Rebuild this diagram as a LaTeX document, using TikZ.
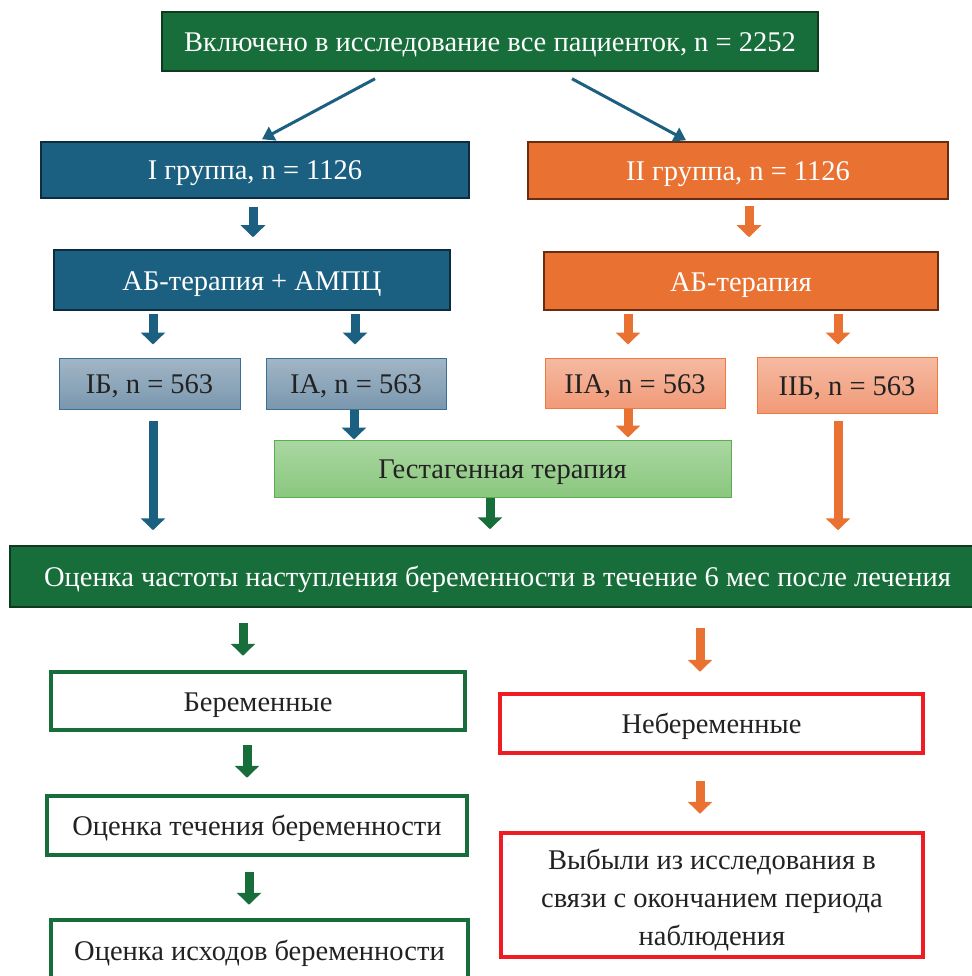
\documentclass[tikz,border=0pt]{standalone}
\usepackage{fontspec}
\setmainfont{Liberation Serif}
\usetikzlibrary{arrows.meta,calc}
\definecolor{dgreen}{HTML}{186E3A}
\definecolor{dgreenb}{HTML}{0F3A20}
\definecolor{tblue}{HTML}{1B6080}
\definecolor{tblueb}{HTML}{0E2C40}
\definecolor{orng}{HTML}{E97132}
\definecolor{orngb}{HTML}{6A2C0E}
\definecolor{gbtop}{HTML}{A2B6C6}
\definecolor{gbbot}{HTML}{7A97AE}
\definecolor{gbb}{HTML}{3A7094}
\definecolor{satop}{HTML}{F5BAA2}
\definecolor{sabot}{HTML}{F19A78}
\definecolor{sab}{HTML}{EE7A40}
\definecolor{lgtop}{HTML}{AAD7A2}
\definecolor{lgbot}{HTML}{8AC77E}
\definecolor{lgb}{HTML}{5BAE50}
\definecolor{rred}{HTML}{EE1D23}
\definecolor{txt}{HTML}{222222}
\tikzset{
  box/.style={rectangle, inner sep=0pt, align=center, text height=25pt, text depth=5pt, font=\fontsize{28.5}{38}\selectfont},
  darkbox/.style={box, fill=dgreen, draw=dgreenb, line width=1.5pt, text=white},
  bluebox/.style={box, fill=tblue, draw=tblueb, line width=1.5pt, text=white},
  orbox/.style={box, fill=orng, draw=orngb, line width=1.5pt, text=white},
  gbbox/.style={box, top color=gbtop, bottom color=gbbot, draw=gbb, line width=1pt, text=txt},
  sabox/.style={box, top color=satop, bottom color=sabot, draw=sab, line width=1pt, text=txt},
  lgbox/.style={box, top color=lgtop, bottom color=lgbot, draw=lgb, line width=1pt, text=txt},
  wgbox/.style={box, fill=white, draw=dgreen, line width=4.5pt, text=txt},
  wrbox/.style={box, fill=white, draw=rred, line width=4.5pt, text=txt},
  thinarrow/.style={draw=tblue, line width=3pt, -{Triangle[width=15pt,length=12pt]}},
  barrow/.style={line width=9pt, -{Triangle[width=24pt,length=12pt]}},
  bblue/.style={barrow, draw=tblue, fill=tblue},
  borng/.style={barrow, draw=orng, fill=orng},
  bgreen/.style={barrow, draw=dgreen, fill=dgreen},
}
\begin{document}
\begin{tikzpicture}[x=1pt,y=-1pt]
\useasboundingbox (0,0) rectangle (971,976);
\fill[white] (0,0) rectangle (971,976);
\node[darkbox, minimum width=656pt, minimum height=59pt] (top) at (490,41.5) {Включено в исследование все пациенток, n = 2252};
\node[bluebox, minimum width=428pt, minimum height=56pt] (g1) at (255,170) {I группа, n = 1126};
\node[orbox, minimum width=420pt, minimum height=57pt] (g2) at (738,170.5) {II группа, n = 1126};
\node[bluebox, minimum width=396pt, minimum height=60pt] (ab1) at (252,280) {АБ-терапия + АМПЦ};
\node[orbox, minimum width=394pt, minimum height=58pt] (ab2) at (741,281) {АБ-терапия};
\node[gbbox, minimum width=181pt, minimum height=51pt] (ib) at (149.5,383.5) {IБ, n = 563};
\node[gbbox, minimum width=180pt, minimum height=51pt] (ia) at (356,383.5) {IA, n = 563};
\node[sabox, minimum width=180pt, minimum height=50pt] (iia) at (635,383) {IIA, n = 563};
\node[sabox, minimum width=180pt, minimum height=56pt] (iib) at (847,385) {IIБ, n = 563};
\node[lgbox, minimum width=457pt, minimum height=57pt] (gest) at (502.5,468.5) {Гестагенная терапия};
\node[darkbox, minimum width=975pt, minimum height=61pt] (ocen) at (497.5,576.5) {Оценка частоты наступления беременности в течение 6 мес после лечения};
\node[wgbox, minimum width=414pt, minimum height=58pt] (ber) at (258,701) {Беременные};
\node[wrbox, minimum width=423pt, minimum height=59pt] (neber) at (711.5,723.5) {Небеременные};
\node[wgbox, minimum width=420pt, minimum height=59pt] (tech) at (257,825.5) {Оценка течения беременности};
\node[wrbox, minimum width=422pt, minimum height=124pt, text height=, text depth=] (vyb) at (712,895) {\rule{0pt}{30pt}Выбыли из исследования в\\связи с окончанием периода\\наблюдения};
\node[wgbox, minimum width=417pt, minimum height=60pt] (ish) at (259.5,950) {Оценка исходов беременности};
% thin arrows
\draw[thinarrow] ($(top.south)+(-115,7)$) -- ($(g1.north)+(7,-2)$);
\draw[thinarrow] ($(top.south)+(82,7)$) -- ($(g2.north)+(-52,-1)$);
% block arrows
\draw[bblue] ($(g1.south)+(-2,8)$) -- ($(ab1.north)+(1,-12)$);
\draw[borng] ($(g2.south)+(11,6.5)$) -- ($(ab2.north)+(8,-14)$);
\draw[bblue] ($(ab1.south)+(-99,3)$) -- ($(ib.north)+(3.5,-13)$);
\draw[bblue] ($(ab1.south)+(103,3)$) -- ($(ia.north)+(-1,-13)$);
\draw[borng] ($(ab2.south)+(-113,3)$) -- ($(iia.north)+(-7,-13)$);
\draw[borng] ($(ab2.south)+(97,3)$) -- ($(iib.north)+(-9,-12)$);
\draw[bblue] ($(ia.south)+(-2,0)$) -- ($(gest.north)+(-148.5,0)$);
\draw[borng] ($(iia.south)+(-7,0)$) -- ($(gest.north)+(125.5,-2)$);
\draw[bblue] ($(ib.south)+(3.5,11)$) -- ($(ocen.north)+(-344.5,-15)$);
\draw[borng] ($(iib.south)+(-9,7)$) -- ($(ocen.north)+(340.5,-15)$);
\draw[bgreen] ($(gest.south)+(-12.5,0)$) -- ($(ocen.north)+(-7.5,-16)$);
\draw[bgreen] ($(ocen.south)+(-254.5,15)$) -- ($(ber.north)+(-15,-14)$);
\draw[borng] ($(ocen.south)+(202.5,20)$) -- ($(neber.north)+(-11.5,-20)$);
\draw[bgreen] ($(ber.south)+(-11,13)$) -- ($(tech.north)+(-10,-16)$);
\draw[borng] ($(neber.south)+(-11.5,26)$) -- ($(vyb.north)+(-12,-17)$);
\draw[bgreen] ($(tech.south)+(-8,15)$) -- ($(ish.north)+(-10.5,-13)$);
\end{tikzpicture}
\end{document}
